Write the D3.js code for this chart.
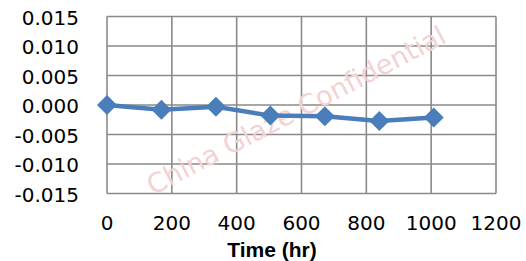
<!DOCTYPE html>
<html>
<head>
<meta charset="utf-8">
<script src="https://cdn.jsdelivr.net/npm/d3@7.9.0/dist/d3.min.js"></script>
<style>
  body { margin: 0; background: #fff; }
  svg { display: block; }
</style>
</head>
<body>
<svg id="chart" width="526" height="261"></svg>
<script>
// data
const hours = [0, 168, 336, 504, 672, 840, 1008];
const change = [0.0, -0.0008, -0.0003, -0.0018, -0.0019, -0.0027, -0.0021];
const xTicks = [0, 200, 400, 600, 800, 1000, 1200];
const yTicks = [-0.015, -0.010, -0.005, 0.000, 0.005, 0.010, 0.015];

const svg = d3.select("#chart");

const x = d3.scaleLinear().domain([0, 1200]).range([107, 496]);
const y = d3.scaleLinear().domain([-0.015, 0.015]).range([193.5, 16.5]);

// grid
const grid = svg.append("g").attr("stroke", "#8a8a8a").attr("stroke-width", 1.6);
grid.selectAll(".h").data(yTicks).enter().append("line")
    .attr("x1", x(0)).attr("x2", x(1200))
    .attr("y1", d => y(d)).attr("y2", d => y(d));
grid.selectAll(".v").data(xTicks).enter().append("line")
    .attr("x1", d => x(d)).attr("x2", d => x(d))
    .attr("y1", y(0.015)).attr("y2", y(-0.015));

// tick labels
svg.append("g").selectAll("text").data(yTicks).enter().append("text")
    .attr("x", 79).attr("y", d => y(d) + 8)
    .attr("text-anchor", "end")
    .attr("font-family", "DejaVu Sans, Verdana, sans-serif")
    .attr("font-size", 20)
    .attr("fill", "#000")
    .text(d => d3.format(".3f")(d).replace("−", "-"));

svg.append("g").selectAll("text").data(xTicks).enter().append("text")
    .attr("x", d => x(d)).attr("y", 230)
    .attr("text-anchor", "middle")
    .attr("font-family", "DejaVu Sans, Verdana, sans-serif")
    .attr("font-size", 20)
    .attr("fill", "#000")
    .text(d => d);

svg.append("text")
    .attr("x", 272).attr("y", 257)
    .attr("text-anchor", "middle")
    .attr("font-family", "Liberation Sans, Arial, sans-serif")
    .attr("font-weight", "bold")
    .attr("font-size", 21)
    .text("Time (hr)");

// watermark
svg.append("text")
    .attr("transform", "translate(297,112) rotate(-27.5)")
    .attr("text-anchor", "middle")
    .attr("dominant-baseline", "middle")
    .attr("font-family", "DejaVu Sans, Verdana, sans-serif")
    .attr("font-size", 27)
    .attr("fill", "#f2d2d2")
    .text("China Glaze Confidential");

// series
const line = d3.line().x((d, i) => x(hours[i])).y(d => y(d));
svg.append("path")
    .datum(change)
    .attr("d", line)
    .attr("fill", "none")
    .attr("stroke", "#4a7ebb")
    .attr("stroke-width", 4.5)
    .attr("stroke-linejoin", "round");

const diamond = d3.symbol().type(d3.symbolSquare).size(200);
svg.append("g").selectAll("path").data(change).enter().append("path")
    .attr("d", diamond)
    .attr("transform", (d, i) => `translate(${x(hours[i])},${y(d)}) rotate(45)`)
    .attr("fill", "#4a7ebb");
</script>
</body>
</html>
